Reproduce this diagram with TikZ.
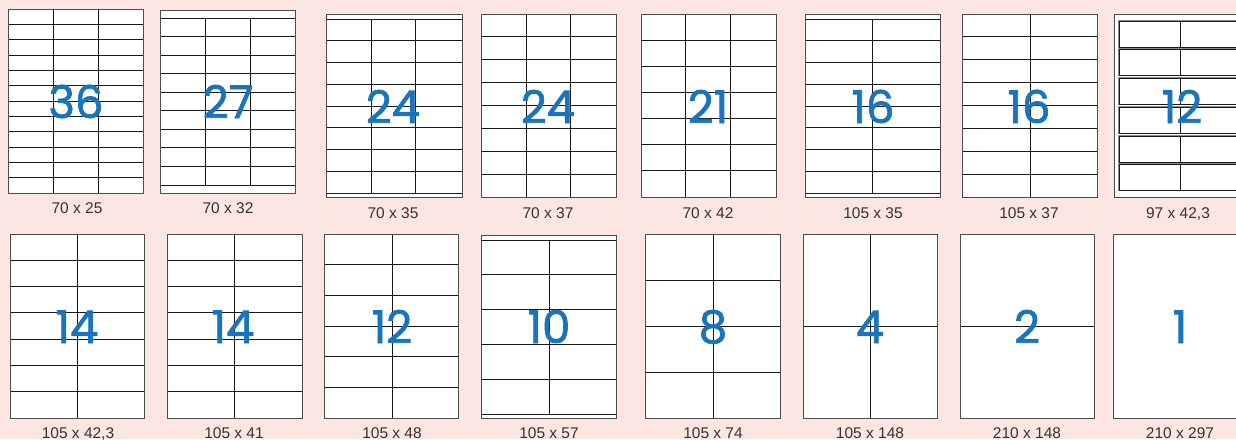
\documentclass[tikz,border=0pt]{standalone}
\usepackage{fontspec}
\setmainfont{Liberation Sans}
\newfontfamily\numfont[FakeBold=1.6]{Poppins}
\definecolor{bgpink}{HTML}{FCE6E1}
\definecolor{numblue}{HTML}{1A74BC}
\definecolor{txtgray}{HTML}{333333}
\tikzset{
  sheet/.style={draw=black!70, fill=white, line width=1pt},
  gridline/.style={draw=black!90, line width=0.9pt},
  bignum/.style={anchor=base, text=numblue, inner sep=0pt, font=\numfont\fontsize{45}{45}\selectfont},
  dimlabel/.style={anchor=base, text=txtgray, inner sep=0pt, font=\fontsize{15.5}{16}\selectfont},
  lblbox/.style={draw=black!45, line width=1.8pt},
  lblinner/.style={draw=black!90, line width=0.6pt}
}
\newcommand{\hrows}[5]{%
  \foreach \i in {0,...,#5}{\draw[gridline] (#1,{#3+(#4-#3)*\i/#5}) -- (#2,{#3+(#4-#3)*\i/#5});}}
\newcommand{\vcol}[3]{\draw[gridline] (#1,#2) -- (#1,#3);}
\begin{document}
\begin{tikzpicture}[x=1pt,y=-1pt]
\useasboundingbox (0,0) rectangle (1236,439);
\clip (0,0) rectangle (1236,439);
\fill[bgpink] (0,0) rectangle (1236,439);
% ---------- row 1 ----------
% 36
\draw[sheet] (8,9) rectangle (143,193);
\hrows{8}{143}{9}{193}{12}
\vcol{53}{9}{193}\vcol{98}{9}{193}
\draw[sheet,fill=none] (8,9) rectangle (143,193);
\node[bignum] (n1) at (76,118) {36};
\node[dimlabel] (l1) at (77,213) {70 x 25};
% 27
\draw[sheet] (160,10) rectangle (295,193);
\hrows{160}{295}{18}{185}{9}
\vcol{205}{18}{185}\vcol{250}{18}{185}
\draw[sheet,fill=none] (160,10) rectangle (295,193);
\node[bignum] (n2) at (228,118) {27};
\node[dimlabel] (l2) at (228,213) {70 x 32};
% 24 (70x35)
\draw[sheet] (326,14) rectangle (462,197);
\hrows{326}{462}{19}{193}{8}
\vcol{371}{19}{193}\vcol{415}{19}{193}
\draw[sheet,fill=none] (326,14) rectangle (462,197);
\node[bignum] (n3) at (393,123) {24};
\node[dimlabel] (l3) at (393,218) {70 x 35};
% 24 (70x37)
\draw[sheet] (481,14) rectangle (616,197);
\hrows{481}{616}{14}{197}{8}
\vcol{526}{14}{197}\vcol{570}{14}{197}
\draw[sheet,fill=none] (481,14) rectangle (616,197);
\node[bignum] (n4) at (548,123) {24};
\node[dimlabel] (l4) at (548,218) {70 x 37};
% 21
\draw[sheet] (641,14) rectangle (776,197);
\hrows{641}{776}{14}{197}{7}
\vcol{685}{14}{197}\vcol{730}{14}{197}
\draw[sheet,fill=none] (641,14) rectangle (776,197);
\node[bignum] (n5) at (708,123) {21};
\node[dimlabel] (l5) at (708,218) {70 x 42};
% 16 (105x35)
\draw[sheet] (805,14) rectangle (940,197);
\hrows{805}{940}{19}{193}{8}
\vcol{872}{19}{193}
\draw[sheet,fill=none] (805,14) rectangle (940,197);
\node[bignum] (n6) at (873,123) {16};
\node[dimlabel] (l6) at (873,218) {105 x 35};
% 16 (105x37)
\draw[sheet] (962,14) rectangle (1097,197);
\hrows{962}{1097}{14}{197}{8}
\vcol{1030}{14}{197}
\draw[sheet,fill=none] (962,14) rectangle (1097,197);
\node[bignum] (n7) at (1029,123) {16};
\node[dimlabel] (l7) at (1029,218) {105 x 37};
% 12 (97x42,3)
\draw[sheet] (1114,14) rectangle (1249,197);
\foreach \t in {21,49,78,107,136,164}{
  \draw[lblbox] (1119,\t) rectangle (1244,{\t+26.5});
  \draw[lblinner] (1119,\t) rectangle (1244,{\t+26.5});
  \draw[gridline] (1180,\t) -- (1180,{\t+26.5});
}
\node[bignum] (n8) at (1182,123) {12};
\node[dimlabel] (l8) at (1178,218) {97 x 42,3};
% ---------- row 2 ----------
% 14 (105x42,3)
\draw[sheet] (10,234) rectangle (144,418);
\hrows{10}{144}{234}{418}{7}
\vcol{77}{234}{418}
\draw[sheet,fill=none] (10,234) rectangle (144,418);
\node[bignum] (n9) at (77,343) {14};
\node[dimlabel] (l9) at (78,438) {105 x 42,3};
% 14 (105x41)
\draw[sheet] (167,234) rectangle (302,418);
\hrows{167}{302}{234}{418}{7}
\vcol{234}{234}{418}
\draw[sheet,fill=none] (167,234) rectangle (302,418);
\node[bignum] (n10) at (233,343) {14};
\node[dimlabel] (l10) at (234,438) {105 x 41};
% 12 (105x48)
\draw[sheet] (324,234) rectangle (458,418);
\hrows{324}{458}{234}{418}{6}
\vcol{392}{234}{418}
\draw[sheet,fill=none] (324,234) rectangle (458,418);
\node[bignum] (n11) at (392,343) {12};
\node[dimlabel] (l11) at (392,438) {105 x 48};
% 10 (105x57)
\draw[sheet] (481,235) rectangle (616,418);
\hrows{481}{616}{240}{414}{5}
\vcol{549}{240}{414}
\draw[sheet,fill=none] (481,235) rectangle (616,418);
\node[bignum] (n12) at (549,343) {10};
\node[dimlabel] (l12) at (549,438) {105 x 57};
% 8 (105x74)
\draw[sheet] (645,234) rectangle (780,418);
\hrows{645}{780}{234}{418}{4}
\vcol{713}{234}{418}
\draw[sheet,fill=none] (645,234) rectangle (780,418);
\node[bignum] (n13) at (713,343) {8};
\node[dimlabel] (l13) at (713,438) {105 x 74};
% 4 (105x148)
\draw[sheet] (803,234) rectangle (937,418);
\hrows{803}{937}{234}{418}{2}
\vcol{870}{234}{418}
\draw[sheet,fill=none] (803,234) rectangle (937,418);
\node[bignum] (n14) at (870,343) {4};
\node[dimlabel] (l14) at (870,438) {105 x 148};
% 2 (210x148)
\draw[sheet] (960,234) rectangle (1094,418);
\hrows{960}{1094}{234}{418}{2}
\draw[sheet,fill=none] (960,234) rectangle (1094,418);
\node[bignum] (n15) at (1027,343) {2};
\node[dimlabel] (l15) at (1027,438) {210 x 148};
% 1 (210x297)
\draw[sheet] (1113,234) rectangle (1248,418);
\node[bignum] (n16) at (1180,343) {1};
\node[dimlabel] (l16) at (1180,438) {210 x 297};
\end{tikzpicture}
\end{document}
